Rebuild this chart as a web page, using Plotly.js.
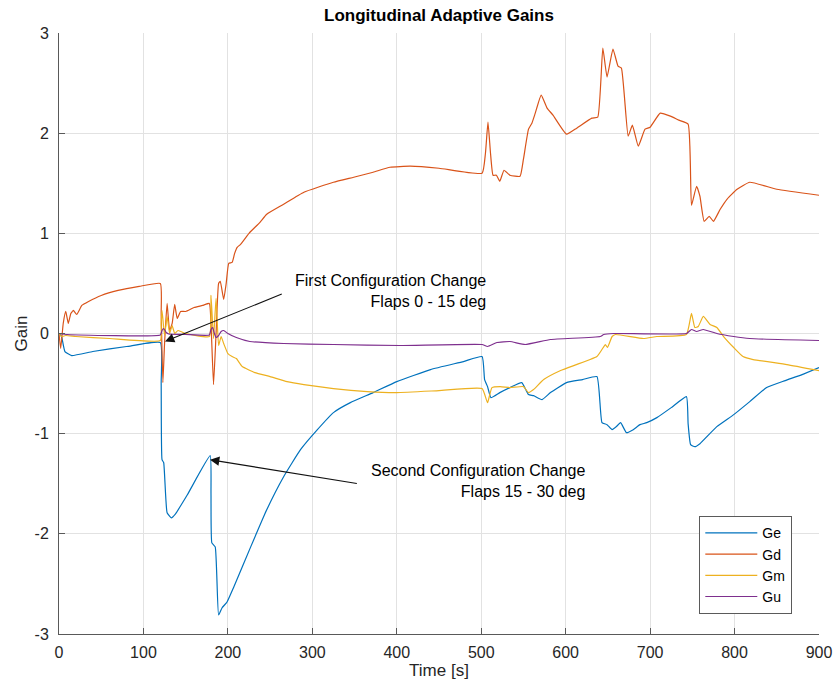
<!DOCTYPE html>
<html>
<head>
<meta charset="utf-8">
<script src="https://cdn.plot.ly/plotly-3.0.1.min.js"></script>
<style>html,body{margin:0;padding:0;background:#fff;}#chart{width:836px;height:685px;}</style>
</head>
<body>
<div id="chart"></div>
<script>
// ---- Data ----
const seriesNames = ["Ge", "Gd", "Gm", "Gu"];

const geTime = [0,3,7,15,40,80,120,121,122,124,128,133,138,152,179,180,181,185,189,193,199,207,227,246,266,286,306,325,345,372,400,440,479,501,504,507.5,511.5,522,534,548,556,562,572,582,601,620,637,643,649,655,660,665,672,680,688,696,708,725,743,745,748,753,759,779,799,818,838,860,880,900];
const geGain = [0,-0.03,-0.18,-0.22,-0.18,-0.13,-0.09,-0.5,-1.26,-1.29,-1.79,-1.84,-1.8,-1.61,-1.22,-1.6,-2.09,-2.13,-2.81,-2.74,-2.68,-2.53,-2.13,-1.76,-1.43,-1.16,-0.96,-0.79,-0.69,-0.59,-0.48,-0.36,-0.28,-0.23,-0.46,-0.53,-0.64,-0.59,-0.54,-0.49,-0.61,-0.62,-0.66,-0.59,-0.49,-0.46,-0.43,-0.89,-0.91,-0.96,-0.93,-0.89,-0.99,-0.96,-0.91,-0.89,-0.84,-0.74,-0.63,-0.9,-1.11,-1.13,-1.1,-0.93,-0.81,-0.68,-0.54,-0.47,-0.41,-0.34];

const gdTime = [0,2,5,8,11,14,17,21,27,35,50,70,95,120,121,123,125,128,131,134,137,140,144,150,160,170,178,180,183,186,189,191,195,198,201,205,208,211,215,225,238,246,266,290,325,349,372,392,416,450,501,505,508,511,514,518,522,527,534,546,550,556,560,564,571,578,585,601,613,631,638,644,649,656,662,666,674,679,686,694,700,712,724,734,745,749,755,759,764,770,775,783,791,803,818,850,900];
const gdGain = [0,-0.15,0.1,0.22,0.1,0.2,0.23,0.19,0.28,0.32,0.38,0.43,0.47,0.5,0.2,-0.49,-0.1,0.3,0.03,0.1,0.29,0.15,0.22,0.22,0.26,0.28,0.3,0.1,-0.51,0.0,0.5,0.52,0.34,0.5,0.7,0.71,0.8,0.86,0.89,1.0,1.11,1.19,1.29,1.41,1.51,1.56,1.61,1.66,1.67,1.65,1.6,1.8,2.11,1.8,1.58,1.58,1.52,1.63,1.58,1.57,1.74,2.04,2.1,2.2,2.38,2.25,2.18,1.99,2.05,2.15,2.16,2.85,2.56,2.84,2.67,2.65,1.97,2.08,1.87,2.04,2.06,2.2,2.17,2.13,2.09,1.28,1.47,1.37,1.12,1.17,1.12,1.24,1.34,1.44,1.51,1.44,1.38];

const gmTime = [0,3,8,20,60,120,121,122,125,128,131,134,137,141,150,178,180,183,186,189,192,195,200,205,210,217,232,250,270,290,325,365,400,450,501,507.5,512.7,522.5,534,550,556,562,574,594,637,643,647,649.5,655,659,692,708,743,749,753,757,763,771,779,787,799,810,822,862,900];
const gmGain = [0,-0.03,-0.02,-0.03,-0.05,-0.07,0.1,0.23,-0.02,0.17,0.0,0.08,0.0,0.03,0.0,-0.03,0.38,-0.05,0.35,-0.12,-0.03,-0.1,-0.2,-0.23,-0.25,-0.33,-0.39,-0.43,-0.48,-0.51,-0.55,-0.58,-0.59,-0.57,-0.55,-0.69,-0.54,-0.53,-0.54,-0.53,-0.59,-0.56,-0.46,-0.37,-0.23,-0.16,-0.11,-0.14,-0.03,-0.01,-0.05,-0.03,-0.01,0.2,0.06,0.07,0.17,0.09,0.06,-0.03,-0.14,-0.23,-0.26,-0.31,-0.37];

const guTime = [0,10,120,122,124,127,130,150,178,180,182,184,186,189,192,195,200,210,226,266,325,404,501,507.5,518.6,534,552,582,641,645,657,743,749,755,763,779,799,818,900];
const guGain = [0,-0.01,-0.015,0.03,0.05,0.01,-0.005,-0.01,-0.015,0.04,0.06,0.0,-0.04,-0.02,0.02,0.03,0.0,-0.04,-0.08,-0.1,-0.11,-0.12,-0.11,-0.13,-0.09,-0.08,-0.11,-0.06,-0.03,-0.01,0.0,0.0,0.04,0.02,0.04,0.0,-0.03,-0.05,-0.07];

const xTicks = [0,100,200,300,400,500,600,700,800,900];
const yTicks = [-3,-2,-1,0,1,2,3];

// annotation anchors (data coordinates)
const note1Text = "First Configuration Change<br>Flaps 0 - 15 deg";
const note1Pos = [508, 0.42];
const arrow1Head = [125.5, -0.08];
const arrow1Tail = [265.6, 0.40];
const note2Text = "Second Configuration Change<br>Flaps 15 - 30 deg";
const note2Pos = [625, -1.47];
const arrow2Head = [178.8, -1.26];
const arrow2Tail = [354.5, -1.50];

// ---- Styling ----
const colors = ["#0072BD", "#D95319", "#EDB120", "#7E2F8E"];
const FONT = "Liberation Sans, Arial, Helvetica, sans-serif";
const xs = [geTime, gdTime, gmTime, guTime];
const ys = [geGain, gdGain, gmGain, guGain];

const traces = seriesNames.map((n, i) => ({
  type: "scatter", mode: "lines", name: n,
  x: xs[i], y: ys[i],
  line: {color: colors[i], width: 1.2, shape: "spline", smoothing: 0.4},
  hoverinfo: "skip"
}));

const axisCommon = {
  showgrid: true, gridcolor: "#e2e2e2", gridwidth: 1,
  zeroline: false, showline: true, linecolor: "#595959", linewidth: 1,
  ticks: "inside", ticklen: 6, tickcolor: "#595959", tickwidth: 1,
  tickfont: {family: FONT, size: 16, color: "#262626"},
  automargin: false
};

const layout = {
  width: 836, height: 685,
  margin: {l: 59, r: 17, t: 33, b: 51, pad: 0},
  paper_bgcolor: "#ffffff", plot_bgcolor: "#ffffff",
  font: {family: FONT, color: "#262626"},
  showlegend: true,
  title: {text: "<b>Longitudinal Adaptive Gains</b>", font: {family: FONT, size: 17, color: "#000000"},
          x: 0.5, xref: "paper", y: 1 - 15/685, yref: "container", yanchor: "middle"},
  xaxis: Object.assign({}, axisCommon, {
    range: [0, 900], tickvals: xTicks, ticktext: xTicks.map(String),
    ticklabelstandoff: 4,
    title: {text: "Time [s]", font: {family: FONT, size: 17, color: "#262626"}, standoff: 1}
  }),
  yaxis: Object.assign({}, axisCommon, {
    range: [-3, 3], tickvals: yTicks, ticktext: yTicks.map(String),
    ticklabelstandoff: 6,
    title: {text: "Gain", font: {family: FONT, size: 17, color: "#262626"}, standoff: 2}
  }),
  legend: {
    x: (792 - 59) / 760, y: (634 - 614) / 601, xanchor: "right", yanchor: "bottom",
    bgcolor: "#ffffff", bordercolor: "#5a5a5a", borderwidth: 1.3,
    font: {family: FONT, size: 14, color: "#000000"},
    itemwidth: 52, tracegroupgap: 0
  },
  annotations: [
    {x: arrow1Head[0], y: arrow1Head[1], ax: arrow1Tail[0], ay: arrow1Tail[1],
     xref: "x", yref: "y", axref: "x", ayref: "y", text: "", showarrow: true,
     arrowhead: 2, arrowsize: 1.7, arrowwidth: 1.1, arrowcolor: "#111111"},
    {x: arrow2Head[0], y: arrow2Head[1], ax: arrow2Tail[0], ay: arrow2Tail[1],
     xref: "x", yref: "y", axref: "x", ayref: "y", text: "", showarrow: true,
     arrowhead: 2, arrowsize: 1.7, arrowwidth: 1.1, arrowcolor: "#111111"},
    {x: note1Pos[0], y: note1Pos[1], xref: "x", yref: "y", text: note1Text, showarrow: false,
     xanchor: "right", yanchor: "middle", align: "right",
     font: {family: FONT, size: 16, color: "#000000"}},
    {x: note2Pos[0], y: note2Pos[1], xref: "x", yref: "y", text: note2Text, showarrow: false,
     xanchor: "right", yanchor: "middle", align: "right",
     font: {family: FONT, size: 16, color: "#000000"}}
  ]
};

Plotly.newPlot("chart", traces, layout, {displayModeBar: false, staticPlot: true});
</script>
</body>
</html>
